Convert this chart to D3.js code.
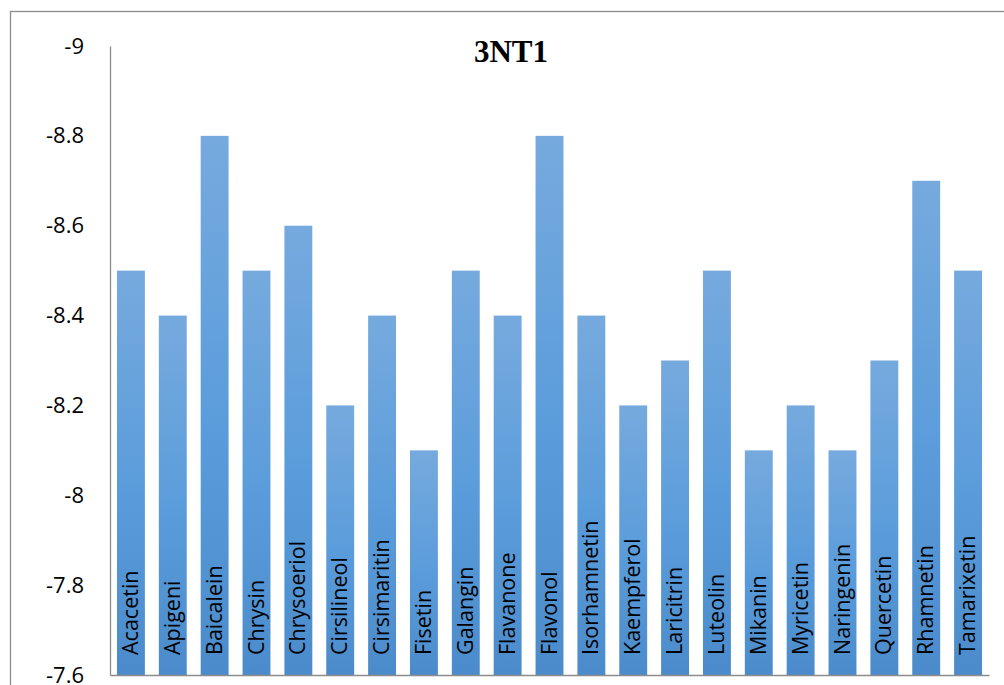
<!DOCTYPE html>
<html>
<head>
<meta charset="utf-8">
<script src="https://cdn.jsdelivr.net/npm/d3@7"></script>
<style>
  html, body { margin: 0; padding: 0; background: #fff; }
  svg { display: block; }
</style>
</head>
<body>
<div id="chart"></div>
<script>
// Docking scores against 3NT1 (kcal/mol)
const compounds = ["Acacetin", "Apigeni", "Baicalein", "Chrysin", "Chrysoeriol", "Cirsilineol",
  "Cirsimaritin", "Fisetin", "Galangin", "Flavanone", "Flavonol", "Isorhamnetin", "Kaempferol",
  "Laricitrin", "Luteolin", "Mikanin", "Myricetin", "Naringenin", "Quercetin", "Rhamnetin", "Tamarixetin"];
const scores = [-8.5, -8.4, -8.8, -8.5, -8.6, -8.2, -8.4, -8.1, -8.5, -8.4, -8.8, -8.4, -8.2,
  -8.3, -8.5, -8.1, -8.2, -8.1, -8.3, -8.7, -8.5];
const yTicks = [-9, -8.8, -8.6, -8.4, -8.2, -8, -7.8, -7.6];
const chartTitle = "3NT1";

const W = 1004, H = 685;
const plot = { left: 110, right: 989, top: 46, bottom: 675 };

const svg = d3.select("#chart").append("svg")
  .attr("width", W).attr("height", H);

// bar fill: lighter at the top, deeper blue at the base
const grad = svg.append("defs").append("linearGradient")
  .attr("id", "barFill").attr("x1", 0).attr("y1", 0).attr("x2", 0).attr("y2", 1);
grad.append("stop").attr("offset", "0%").attr("stop-color", "#76aade");
grad.append("stop").attr("offset", "55%").attr("stop-color", "#5a9cdb");
grad.append("stop").attr("offset", "100%").attr("stop-color", "#4b8bcb");

// chart frame
svg.append("rect")
  .attr("x", 10.5).attr("y", 11.5).attr("width", 1100).attr("height", 800)
  .attr("fill", "none").attr("stroke", "#8c8c8c").attr("stroke-width", 1.3);

const x = d3.scaleBand()
  .domain(compounds)
  .range([plot.left, plot.right])
  .paddingInner(1 / 3)
  .paddingOuter(1 / 6);

// reversed value axis: more negative scores sit higher
const y = d3.scaleLinear()
  .domain([-7.6, -9])
  .range([plot.bottom, plot.top]);

const data = compounds.map((c, i) => ({ name: c, value: scores[i] }));

svg.append("g").selectAll("rect")
  .data(data)
  .join("rect")
  .attr("x", d => x(d.name))
  .attr("width", x.bandwidth())
  .attr("y", d => y(d.value))
  .attr("height", d => y(-7.6) - y(d.value))
  .attr("fill", "url(#barFill)");

// category names written up the inside of each bar
svg.append("g").selectAll("text")
  .data(data)
  .join("text")
  .attr("transform", d => `translate(${x(d.name) + x.bandwidth() / 2 + 7},${plot.bottom - 20}) rotate(-90)`)
  .attr("font-family", "'Open Sans', sans-serif")
  .attr("font-size", 21.5)
  .attr("fill", "#000")
  .text(d => d.name);

// value axis
const yAxis = d3.axisLeft(y)
  .tickValues(yTicks)
  .tickSize(0)
  .tickPadding(26)
  .tickFormat(d => String(d));

const gy = svg.append("g")
  .attr("transform", `translate(${plot.left},0)`)
  .call(yAxis);
gy.select(".domain").attr("stroke", "#8c8c8c").attr("stroke-width", 1.3);
gy.selectAll("text")
  .attr("font-family", "'Open Sans', sans-serif")
  .attr("font-size", 22)
  .attr("fill", "#000");

// category axis baseline
const xAxis = d3.axisBottom(x).tickSize(0).tickFormat("");
const gx = svg.append("g")
  .attr("transform", `translate(0,${plot.bottom})`)
  .call(xAxis);
gx.select(".domain").attr("stroke", "#8c8c8c").attr("stroke-width", 1.3);

// title
svg.append("text")
  .attr("x", 511).attr("y", 62)
  .attr("text-anchor", "middle")
  .attr("font-family", "'Liberation Serif', 'Times New Roman', serif")
  .attr("font-weight", "bold")
  .attr("font-size", 31)
  .attr("fill", "#000")
  .text(chartTitle);
</script>
</body>
</html>
